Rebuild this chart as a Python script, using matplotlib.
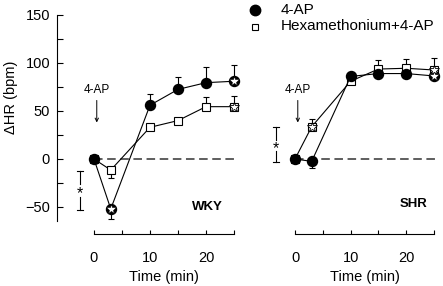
import matplotlib
matplotlib.use("Agg")
import matplotlib.pyplot as plt
from matplotlib.lines import Line2D

plt.rcParams['font.family'] = ['Liberation Sans', 'DejaVu Sans']

time = [0, 3, 10, 15, 20, 25]

wky_ap = [0, -52, 56, 72.5, 79.5, 81]
wky_ap_lo = [0, 11, 0, 0, 0, 0]
wky_ap_hi = [0, 0, 12, 13, 16, 17]
wky_ap_star = [1, 5]

wky_hex = [0, -11.5, 33, 40, 54.5, 54.5]
wky_hex_lo = [0, 8.5, 0, 0, 0, 0]
wky_hex_hi = [0, 0, 3, 3, 10, 11]
wky_hex_star = [5]

shr_ap = [0, -2.5, 86, 89, 89, 86.5]
shr_ap_lo = [0, 6.5, 0, 0, 0, 0]
shr_ap_hi = [0, 0, 3, 3, 3, 3]
shr_ap_star = [5]

shr_hex = [0, 33.6, 81, 93.7, 94.5, 92.7]
shr_hex_lo = [0, 0, 0, 0, 0, 0]
shr_hex_hi = [0, 8, 3, 9.5, 10, 12]
shr_hex_star = [1, 5]

W, H = 443, 286
fig = plt.figure(figsize=(W / 100, H / 100), dpi=100)

ylim = (-64.6, 150)
xlim = (-6.6, 26)
ax1 = fig.add_axes([57 / W, 65 / H, 182.6 / W, 206 / H])
ax2 = fig.add_axes([258.3 / W, 65 / H, 181.3 / W, 206 / H])

FS = 10.5


def draw(ax, ap, ap_lo, ap_hi, ap_star, hx, hx_lo, hx_hi, hx_star):
    ax.plot([0, 25.5], [0, 0], color='#333333', lw=1.1, dashes=(5.6, 3.0), zorder=1)
    # hexamethonium (open squares)
    ax.errorbar(time, hx, yerr=[hx_lo, hx_hi], fmt='none', ecolor='black',
                elinewidth=0.8, capsize=2.3, capthick=0.8, zorder=2, clip_on=False)
    ax.plot(time, hx, color='black', lw=0.8, marker='s', ms=6.2, mfc='white',
            mec='black', mew=0.8, zorder=3, clip_on=False)
    # 4-AP (filled circles)
    ax.errorbar(time, ap, yerr=[ap_lo, ap_hi], fmt='none', ecolor='black',
                elinewidth=0.8, capsize=2.3, capthick=0.8, zorder=4, clip_on=False)
    ax.plot(time, ap, color='black', lw=0.8, marker='o', ms=7.2, mfc='black',
            mec='black', zorder=5, clip_on=False)
    for i in ap_star:
        ax.plot(time[i], ap[i], marker='*', ms=7.5, mfc='white', mec='black',
                mew=0.4, zorder=6, clip_on=False)
    for i in hx_star:
        ax.plot(time[i], hx[i], marker='*', ms=7.5, mfc='white', mec='black',
                mew=0.6, zorder=6, clip_on=False)

    ax.set_xlim(*xlim)
    ax.set_ylim(*ylim)
    for s in ['top', 'right']:
        ax.spines[s].set_visible(False)
    ax.spines['bottom'].set_position(('outward', 9.4))
    ax.spines['bottom'].set_bounds(0, 25)
    ax.spines['bottom'].set_linewidth(0.8)
    ax.spines['left'].set_linewidth(0.8)
    ax.set_xticks([0, 10, 20])
    ax.set_xticks([5, 15, 25], minor=True)
    ax.tick_params(axis='x', which='both', direction='in', length=3.2, width=0.8,
                   labelsize=FS, pad=12)
    ax.set_xlabel('Time (min)', fontsize=FS)
    ax.xaxis.set_label_coords((12.5 - xlim[0]) / (xlim[1] - xlim[0]), -0.24)
    # 4-AP arrow annotation
    ax.text(0.5, 72, '4-AP', fontsize=8.5, ha='center', va='center')
    ax.annotate('', xy=(0.5, 38), xytext=(0.5, 61),
                arrowprops=dict(arrowstyle='->', lw=0.7, color='black',
                                mutation_scale=6, shrinkA=0, shrinkB=0))


draw(ax1, wky_ap, wky_ap_lo, wky_ap_hi, wky_ap_star,
     wky_hex, wky_hex_lo, wky_hex_hi, wky_hex_star)
draw(ax2, shr_ap, shr_ap_lo, shr_ap_hi, shr_ap_star,
     shr_hex, shr_hex_lo, shr_hex_hi, shr_hex_star)

ax1.set_yticks([-50, 0, 50, 100, 150])
ax1.set_yticks([-25, 25, 75, 125], minor=True)
ax1.tick_params(axis='y', which='both', direction='in', length=4.5, width=0.8,
                labelsize=FS, pad=5)
ax1.spines['left'].set_bounds(-64.6, 150)

ax2.spines['left'].set_visible(False)
ax2.set_yticks([])

ax1.text(20.2, -49.7, 'WKY', fontsize=9.5, fontweight='bold', ha='center', va='center')
ax2.text(21.4, -47, 'SHR', fontsize=9.5, fontweight='bold', ha='center', va='center')


def bracket(ax, x, top, bot, star_y, gap):
    ax.plot([x, x], [top, star_y + gap], color='black', lw=0.8, clip_on=False)
    ax.plot([x, x], [star_y - gap, bot], color='black', lw=0.8, clip_on=False)
    for yy in (top, bot):
        ax.plot([x - 0.5, x + 0.5], [yy, yy], color='black', lw=0.8, clip_on=False)
    ax.text(x + 0.05, star_y - 3.5, '*', fontsize=11.5, ha='center', va='center')


bracket(ax1, -2.5, -12.5, -53, -33, 7)
bracket(ax2, -3.4, 33.6, -3.5, 14, 6)

fig.text(11 / W, 1 - 97 / H, 'ΔHR (bpm)', rotation=90, fontsize=FS,
         ha='center', va='center')

# legend
fig.add_artist(Line2D([255 / W], [1 - 10 / H], marker='o', ms=7.5, mfc='black',
                      mec='black', transform=fig.transFigure, ls='none'))
fig.add_artist(Line2D([255 / W], [1 - 27 / H], marker='s', ms=5, mfc='white',
                      mec='black', mew=0.8, transform=fig.transFigure, ls='none'))
fig.text(281 / W, 1 - 10 / H, '4-AP', fontsize=11, ha='left', va='center')
fig.text(281 / W, 1 - 26 / H, 'Hexamethonium+4-AP', fontsize=11, ha='left', va='center')

fig.savefig('out.png', dpi=100)
